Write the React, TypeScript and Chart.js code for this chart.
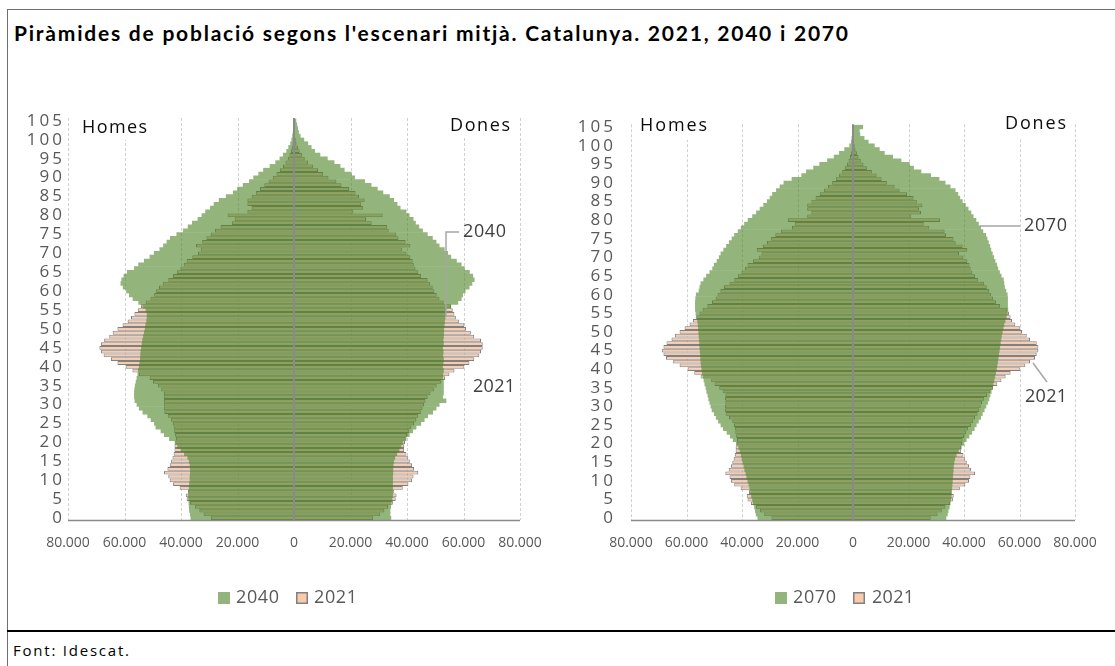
import React, { useEffect, useRef } from 'react';
import { Chart, registerables } from 'chart.js';

Chart.register(...registerables);

// ---------- DATA ----------
const AGES: string[] = Array.from({ length: 106 }, (_, i) => String(i));
const X_TICKS = [-80000, -60000, -40000, -20000, 0, 20000, 40000, 60000, 80000];

const MEN_2021 = [
  29400, 32000, 33500, 35000, 36800, 38000, 38300, 37500, 40500, 42800,
  44000, 44500, 46000, 44800, 44000, 43500, 43000, 42600, 42300, 42300,
  42000, 41800, 42100, 42400, 42600, 42900, 43500, 44700, 45900, 46100,
  46100, 46000, 46100, 46000, 47000, 48200, 49900, 51100, 54900, 57200,
  59600, 62500, 64800, 67400, 68300, 68900, 68300, 67200, 65400, 64200,
  62500, 60700, 58900, 57700, 56500, 55300, 54200, 52500, 50800, 49500,
  48800, 47800, 46500, 44500, 42800, 41500, 40200, 39000, 38000, 36000,
  34000, 33000, 34700, 32500, 31000, 29500, 28000, 26000, 22000, 21000,
  23500, 16500, 15000, 16500, 16500, 15000, 13500, 12000, 10500, 9000,
  7500, 6200, 5000, 3900, 3000, 2200, 1600, 1100, 800, 500,
  350, 200, 120, 70, 40, 50,
];
const WOMEN_2021 = [
  28000, 30500, 32000, 33300, 35000, 36000, 36300, 35500, 38500, 40500,
  41800, 42300, 44000, 42500, 41800, 41000, 40300, 39800, 39000, 39000,
  39300, 39500, 40000, 40800, 41500, 42500, 43300, 44000, 44900, 45500,
  46000, 46500, 47300, 48300, 49500, 50500, 52000, 53500, 55000, 56800,
  60300, 62100, 63800, 65600, 66200, 66800, 66800, 66200, 63800, 62600,
  60900, 60300, 58500, 57300, 56800, 56200, 55600, 53000, 51500, 50500,
  49700, 49100, 48200, 47300, 45000, 44000, 43000, 42400, 42000, 41200,
  39800, 38200, 41200, 39500, 37000, 36200, 33500, 33000, 27500, 25500,
  31400, 21000, 24500, 23800, 25000, 23000, 21800, 19500, 16800, 15000,
  12200, 10300, 8500, 6800, 5000, 3800, 2800, 2000, 1400, 900,
  600, 350, 200, 120, 70, 50,
];
const MEN_2040 = [
  36500, 36700, 37000, 37100, 37200, 37300, 37400, 37300, 37100, 37000,
  36800, 36800, 36700, 36700, 36800, 37100, 37600, 38800, 40000, 41200,
  42100, 44100, 45900, 47100, 48900, 49400, 50600, 51800, 53500, 54800,
  55600, 56300, 56500, 56500, 56400, 56200, 55900, 55600, 55300, 55100,
  54800, 54600, 54400, 54300, 54200, 54000, 53800, 53600, 53300, 53000,
  52700, 52500, 52200, 52000, 52000, 52400, 53500, 55000, 57000, 58300,
  59300, 60500, 61300, 61000, 60200, 59000, 56500, 55000, 53000, 51000,
  49500, 47500, 46200, 45000, 43800, 41500, 39200, 37500, 36000, 34000,
  32600, 31300, 29600, 28300, 26500, 24000, 21500, 20000, 18000, 15800,
  14300, 12500, 10800, 8500, 6500, 5000, 3800, 2600, 1900, 1200,
  800, 500, 300, 200, 100, 100,
];
const WOMEN_2040 = [
  34300, 34000, 34000, 34200, 34400, 34700, 34900, 34900, 34900, 34900,
  34900, 34900, 35000, 35000, 35100, 35300, 35700, 36400, 37200, 37900,
  38500, 39700, 40800, 42000, 43200, 44900, 46100, 47300, 49100, 50300,
  51400, 53800, 52600, 52900, 52900, 52900, 52900, 52600, 52700, 52900,
  52600, 52800, 52900, 52700, 52800, 52600, 52900, 52800, 52900, 53000,
  53000, 53200, 53300, 53500, 53600, 53800, 55500, 58000, 59200, 59700,
  60600, 62000, 63000, 63800, 63300, 62100, 60300, 59200, 57500, 55500,
  54400, 53200, 51400, 50300, 49000, 47200, 45500, 44200, 43000, 42200,
  40800, 39700, 37600, 36500, 35300, 33800, 31500, 29500, 27300, 25000,
  21500, 20300, 17800, 16300, 14200, 11800, 9200, 7300, 6100, 4900,
  3500, 2200, 1600, 1300, 1000, 700,
];
const MEN_2070 = [
  34300, 34900, 35200, 35500, 35900, 36200, 36600, 36900, 37200, 37500,
  37900, 38300, 38600, 39000, 39300, 39700, 40000, 40300, 40700, 41200,
  42000, 43200, 44200, 45400, 46700, 47600, 48500, 49300, 50000, 50800,
  51200, 51600, 52000, 52300, 52700, 53000, 53400, 53700, 54000, 54300,
  54500, 54700, 54800, 54900, 55000, 55100, 55200, 55300, 55400, 55500,
  55600, 55700, 55800, 56000, 56300, 56600, 56800, 56800, 56800, 56700,
  56500, 55500, 55200, 54800, 53800, 52800, 51600, 50600, 50000, 49000,
  48200, 47600, 46600, 45600, 44600, 43600, 42700, 41400, 40300, 39100,
  37800, 36200, 34800, 33500, 32200, 30900, 29900, 29000, 27600, 26300,
  24900, 22000, 18500, 16800, 14200, 12000, 9200, 6800, 4900, 3000,
  1200, 600, 400, 200, 100, 100,
];
const WOMEN_2070 = [
  33500, 34000, 34300, 34700, 35000, 35200, 35400, 35500, 35600, 35700,
  35800, 35900, 36000, 36100, 36200, 36400, 36700, 37200, 38000, 39000,
  40000, 40800, 41800, 42800, 43700, 44400, 45200, 46000, 46600, 47300,
  47900, 48500, 49000, 49400, 49800, 50200, 50500, 50800, 51100, 51400,
  51700, 51900, 52100, 52300, 52500, 52700, 52900, 53100, 53300, 53500,
  53800, 54100, 54400, 54800, 55200, 55600, 55800, 55700, 55700, 55700,
  55600, 55100, 54600, 54400, 54200, 53400, 52800, 52200, 51800, 51200,
  50700, 50200, 49700, 49300, 48800, 48300, 47800, 46800, 46000, 45200,
  44300, 43300, 42500, 41500, 40500, 39400, 38500, 37800, 36800, 35000,
  33200, 31000, 28000, 24500, 21800, 20300, 17300, 14300, 11300, 9500,
  7700, 5500, 4000, 2500, 2300, 3500,
];

// ---------- STYLE ----------
const FONT = "'Open Sans', 'Noto Sans', sans-serif";
const TITLE_FONT_FAMILY = "Lato, 'Open Sans', sans-serif";
const GREEN_SOLID = 'rgb(75,132,38)';
const GREEN_ALPHA = 0.6;
const GREEN_SWATCH = 'rgb(147,181,125)';
const PINK = '#F8CBAD';
const OUTLINE = '#808080';
const GRID = '#d0d0d0';
const AXIS = '#8a8a8a';
const TICK = '#595959';

const fmt = (n: number) => String(Math.abs(n)).replace(/\B(?=(\d{3})+(?!\d))/g, '.');

function measure(text: string, font: string) {
  const c = document.createElement('canvas').getContext('2d') as CanvasRenderingContext2D;
  c.font = font;
  return c.measureText(text).width;
}

function drawFit(ctx: any, text: string, left: number, cy: number, width: number, font: string, color: string) {
  ctx.save();
  ctx.font = font;
  ctx.letterSpacing = '0px';
  const w = ctx.measureText(text).width;
  const sp = (width - w) / Math.max(1, text.length - 1);
  ctx.letterSpacing = sp.toFixed(2) + 'px';
  ctx.fillStyle = color;
  ctx.textBaseline = 'middle';
  ctx.textAlign = 'left';
  ctx.fillText(text, left, cy);
  ctx.restore();
}

type Deco = {
  ox: number; oy: number;
  boxes: number[][];
  texts: { t: string; x: number; y: number; w: number; size: number; color: string }[];
  leaders: number[][][];
  legend: { y: number; items: { kind: 'green' | 'pink'; bx: number; tx: number; t: string; w: number }[] };
};

function makeDeco(d: Deco) {
  let off: HTMLCanvasElement | null = null;
  let offCtx: any = null;
  return {
    id: 'deco',
    beforeDraw(chart: any) {
      chart.ctx.letterSpacing = '3px';
    },
    beforeDatasetsDraw(chart: any) {
      const { ctx, chartArea: a, scales } = chart;
      const x = scales.x;
      ctx.save();
      ctx.letterSpacing = '0px';
      ctx.strokeStyle = GRID;
      ctx.lineWidth = 1;
      ctx.setLineDash([3, 2]);
      X_TICKS.forEach((v) => {
        if (v === 0) return;
        const px = Math.round(x.getPixelForValue(v)) + 0.5;
        ctx.beginPath();
        ctx.moveTo(px, a.top - 1);
        ctx.lineTo(px, a.bottom);
        ctx.stroke();
      });
      ctx.setLineDash([]);
      ctx.fillStyle = '#ffffff';
      d.boxes.forEach((b) => ctx.fillRect(b[0] - d.ox, b[1] - d.oy, b[2], b[3]));
      ctx.restore();
    },
    beforeDatasetDraw(chart: any, args: any) {
      if (args.index > 1) return;
      if (!off) {
        off = document.createElement('canvas');
        off.width = chart.canvas.width;
        off.height = chart.canvas.height;
        offCtx = off.getContext('2d');
      }
      if (args.index === 1) offCtx.clearRect(0, 0, off.width, off.height);
      args.meta.controller._ctx = offCtx;
    },
    afterDatasetDraw(chart: any, args: any) {
      if (args.index > 1) return;
      args.meta.controller._ctx = chart.ctx;
      if (args.index === 0 && off) {
        const ctx = chart.ctx;
        ctx.save();
        ctx.globalAlpha = GREEN_ALPHA;
        ctx.drawImage(off, 0, 0, off.width, off.height, 0, 0, chart.width, chart.height);
        ctx.restore();
      }
    },
    afterDatasetsDraw(chart: any) {
      const { ctx, chartArea: a, scales } = chart;
      const x0 = Math.round(scales.x.getPixelForValue(0));
      ctx.save();
      ctx.strokeStyle = AXIS;
      ctx.lineWidth = 2;
      ctx.beginPath();
      ctx.moveTo(x0, a.top - 1);
      ctx.lineTo(x0, a.bottom);
      ctx.stroke();
      ctx.lineWidth = 1.5;
      ctx.beginPath();
      ctx.moveTo(a.left, a.bottom + 0.5);
      ctx.lineTo(a.right, a.bottom + 0.5);
      ctx.stroke();
      ctx.restore();
      ctx.letterSpacing = '0px';
    },
    afterDraw(chart: any) {
      const ctx = chart.ctx;
      ctx.save();
      ctx.letterSpacing = '0px';
      d.leaders.forEach((pts) => {
        ctx.strokeStyle = '#a6a6a6';
        ctx.lineWidth = 1.5;
        ctx.beginPath();
        pts.forEach((p, i) => (i ? ctx.lineTo(p[0] - d.ox, p[1] - d.oy) : ctx.moveTo(p[0] - d.ox, p[1] - d.oy)));
        ctx.stroke();
      });
      d.texts.forEach((t) =>
        drawFit(ctx, t.t, t.x - d.ox, t.y - d.oy, t.w, `${t.size}px ${FONT}`, t.color)
      );
      const ly = d.legend.y - d.oy;
      d.legend.items.forEach((it) => {
        const bx = it.bx - d.ox;
        if (it.kind === 'green') {
          ctx.fillStyle = GREEN_SWATCH;
          ctx.fillRect(bx, ly - 6, 12, 12);
        } else {
          ctx.fillStyle = PINK;
          ctx.fillRect(bx, ly - 6, 12, 12);
          ctx.strokeStyle = OUTLINE;
          ctx.lineWidth = 1.5;
          ctx.strokeRect(bx + 0.75, ly - 5.25, 10.5, 10.5);
        }
        drawFit(ctx, it.t, it.tx - d.ox, ly, it.w, `18px ${FONT}`, TICK);
      });
      ctx.restore();
    },
  };
}

type PyrProps = {
  left: number; top: number; width: number; height: number;
  futureLabel: string; futM: number[]; futF: number[];
  padTop: number; yWidth: number; yPad: number; deco: Deco;
};

function Pyramid(p: PyrProps) {
  const ref = useRef<HTMLCanvasElement>(null);
  useEffect(() => {
    const barCommon = { grouped: false, barPercentage: 1, categoryPercentage: 1 };
    const chart = new Chart(ref.current as HTMLCanvasElement, {
      type: 'bar',
      data: {
        labels: AGES,
        datasets: [
          { label: p.futureLabel, data: p.futM.map((v) => -v), backgroundColor: GREEN_SOLID, borderWidth: 0, ...barCommon },
          { label: p.futureLabel, data: p.futF, backgroundColor: GREEN_SOLID, borderWidth: 0, ...barCommon },
          { label: '2021', data: MEN_2021.map((v) => -v), backgroundColor: PINK, borderColor: OUTLINE, borderWidth: 1, borderSkipped: false, inflateAmount: 0, ...barCommon },
          { label: '2021', data: WOMEN_2021, backgroundColor: PINK, borderColor: OUTLINE, borderWidth: 1, borderSkipped: false, inflateAmount: 0, ...barCommon },
        ],
      } as any,
      options: {
        indexAxis: 'y',
        responsive: false,
        animation: false,
        events: [],
        layout: { padding: { left: 0, right: 40, top: p.padTop, bottom: 60 } },
        plugins: { legend: { display: false }, tooltip: { enabled: false } },
        scales: {
          x: {
            type: 'linear',
            min: -80000,
            max: 80000,
            afterBuildTicks: (s: any) => { s.ticks = X_TICKS.map((v) => ({ value: v })); },
            ticks: {
              autoSkip: false,
              maxRotation: 0,
              padding: 15,
              z: 1,
              color: TICK,
              font: { family: FONT, size: 14 },
              callback: (v: any) => fmt(Number(v)),
            },
            grid: { display: false, drawTicks: false },
            border: { display: false },
            afterFit: (s: any) => { s.height = 40; },
          },
          y: {
            type: 'category',
            reverse: true,
            ticks: {
              autoSkip: false,
              padding: p.yPad,
              color: TICK,
              font: { family: FONT, size: 17 },
              callback: (v: any) => (Number(v) % 5 === 0 ? AGES[Number(v)] : ''),
            },
            grid: { display: false, drawTicks: false },
            border: { display: false },
            afterFit: (s: any) => { s.width = p.yWidth; },
          },
        },
      } as any,
      plugins: [makeDeco(p.deco) as any],
    });
    return () => chart.destroy();
  }, []);
  return (
    <canvas
      ref={ref}
      width={p.width}
      height={p.height}
      style={{ position: 'absolute', left: p.left, top: p.top, width: p.width, height: p.height }}
    />
  );
}

const LEFT_DECO: Deco = {
  ox: 0, oy: 100,
  boxes: [[73, 110, 78, 30], [444, 110, 72, 28]],
  texts: [
    { t: 'Homes', x: 82, y: 128, w: 65, size: 18, color: '#0d0d0d' },
    { t: 'Dones', x: 450, y: 126, w: 60, size: 18, color: '#0d0d0d' },
    { t: '2040', x: 463, y: 232, w: 43, size: 18, color: '#404040' },
    { t: '2021', x: 473, y: 387, w: 42, size: 18, color: '#404040' },
  ],
  leaders: [[[446, 317], [446, 232], [459, 232]]],
  legend: {
    y: 598,
    items: [
      { kind: 'green', bx: 218, tx: 236, t: '2040', w: 43 },
      { kind: 'pink', bx: 296, tx: 314, t: '2021', w: 43 },
    ],
  },
};

const RIGHT_DECO: Deco = {
  ox: 560, oy: 100,
  boxes: [[636, 110, 76, 30], [1000, 110, 70, 28]],
  texts: [
    { t: 'Homes', x: 640, y: 126, w: 67, size: 18, color: '#0d0d0d' },
    { t: 'Dones', x: 1005, y: 124, w: 61, size: 18, color: '#0d0d0d' },
    { t: '2070', x: 1024, y: 226, w: 43, size: 18, color: '#404040' },
    { t: '2021', x: 1025, y: 397, w: 42, size: 18, color: '#404040' },
  ],
  leaders: [[[980, 226], [1020, 226]], [[1033, 363], [1047, 382]]],
  legend: {
    y: 598,
    items: [
      { kind: 'green', bx: 775, tx: 793, t: '2070', w: 43 },
      { kind: 'pink', bx: 853, tx: 872, t: '2021', w: 42 },
    ],
  },
};

const TITLE = "Piràmides de població segons l'escenari mitjà. Catalunya. 2021, 2040 i 2070";
const FOOTER = 'Font: Idescat.';

export default function App() {
  const titleFont = `bold 21px ${TITLE_FONT_FAMILY}`;
  const titleLeft = 14;
  const titleW = 848 - titleLeft;
  const tSp = (titleW - measure(TITLE, titleFont)) / (TITLE.length - 1);
  const footFont = `15px ${FONT}`;
  const fSp = (116 - measure(FOOTER, footFont)) / (FOOTER.length - 1);
  return (
    <div
      style={{
        position: 'absolute', left: 0, top: 0, width: 1115, height: 666,
        background: '#ffffff', overflow: 'hidden', fontFamily: FONT,
      }}
    >
      <div style={{ position: 'absolute', left: 7, top: 9, width: 1108, height: 1, background: '#6e6e6e' }} />
      <div style={{ position: 'absolute', left: 7, top: 9, width: 1, height: 657, background: '#6e6e6e' }} />
      <div
        style={{
          position: 'absolute', left: titleLeft, top: 20, height: 26, lineHeight: '26px',
          font: titleFont, letterSpacing: `${tSp}px`, color: '#000', whiteSpace: 'nowrap',
        }}
      >
        {TITLE}
      </div>
      <Pyramid left={0} top={100} width={560} height={520} futureLabel="2040"
        futM={MEN_2040} futF={WOMEN_2040} padTop={19} yWidth={68} yPad={3} deco={LEFT_DECO} />
      <Pyramid left={560} top={100} width={555} height={520} futureLabel="2070"
        futM={MEN_2070} futF={WOMEN_2070} padTop={23} yWidth={71} yPad={15} deco={RIGHT_DECO} />
      <div style={{ position: 'absolute', left: 7, top: 630, width: 1108, height: 2, background: '#000' }} />
      <div
        style={{
          position: 'absolute', left: 13, top: 640, height: 20, lineHeight: '20px',
          font: footFont, letterSpacing: `${fSp}px`, color: '#000', whiteSpace: 'nowrap',
        }}
      >
        {FOOTER}
      </div>
    </div>
  );
}
